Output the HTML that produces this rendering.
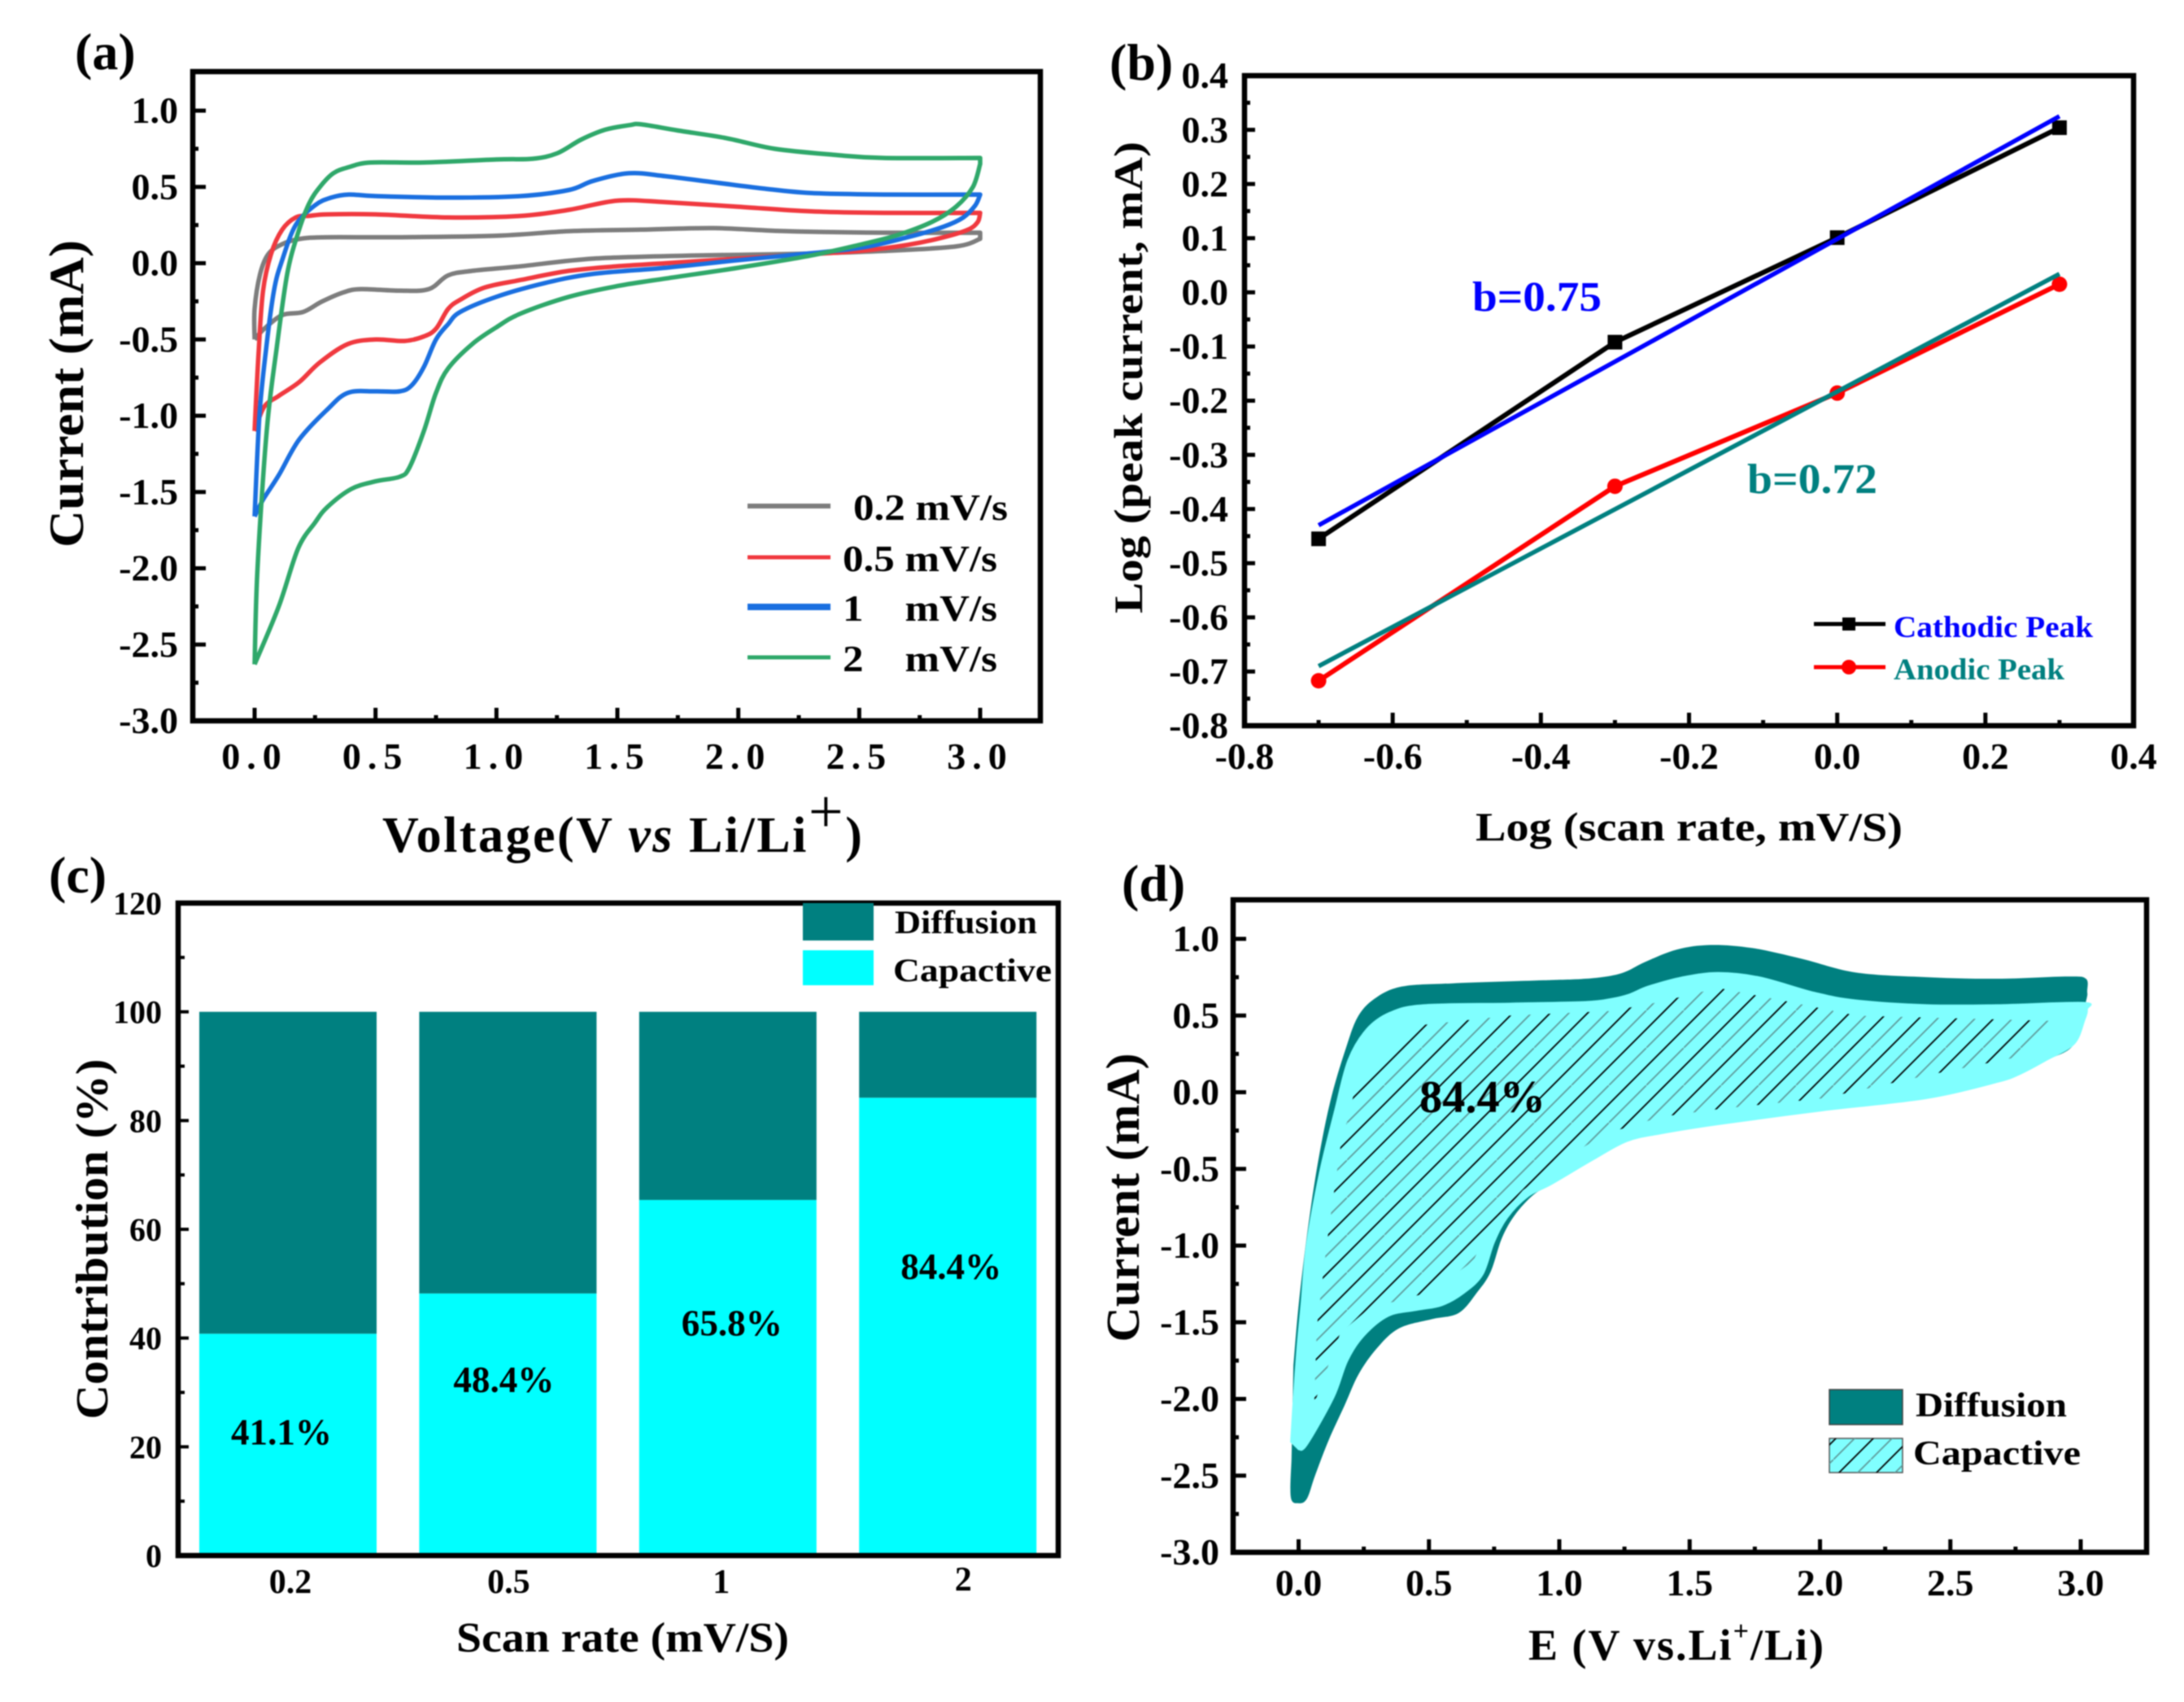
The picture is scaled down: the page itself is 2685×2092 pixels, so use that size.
<!DOCTYPE html>
<html lang="en">
<head>
<meta charset="utf-8">
<title>Electrochemical kinetics figure</title>
<style>
html,body{margin:0;padding:0;background:#fff;width:2685px;height:2092px;overflow:hidden}
svg{display:block;filter:blur(0.8px)}
text{font-family:"Liberation Serif",serif;font-weight:bold;fill:#000}
</style>
</head>
<body>
<svg id="fig" xmlns="http://www.w3.org/2000/svg" width="2685" height="2092" viewBox="0 0 2685 2092">
<defs>
<pattern id="hatch" patternUnits="userSpaceOnUse" width="46" height="46">
<line x1="-4" y1="27" x2="27" y2="-4" stroke="#000" stroke-width="1.8"/>
<line x1="19" y1="50" x2="50" y2="19" stroke="#000" stroke-width="1.8"/>
<line x1="-4" y1="50" x2="50" y2="-4" stroke="#5f9a9a" stroke-width="1.8"/>
</pattern>
</defs>
<rect x="0" y="0" width="2685" height="2092" fill="#fff"/>
</svg>
<script>
// Panel (a): CV loops, voltage (V) and current (mA)
const v02 = [0,0,.023,.057,.114,.19,.3,.6,1,1.3,1.6,1.9,2.2,2.6,3,3,2.9,2.6,2.2,1.8,1.4,1.1,.9,.8,.72,.6,.44,.37,.28,.2,.114,.04,0];
const i02 = [-.5,-.3,-.07,.06,.125,.16,.17,.17,.18,.21,.22,.23,.21,.2,.2,.16,.11,.08,.06,.05,.03,-.02,-.05,-.08,-.17,-.18,-.17,-.19,-.25,-.32,-.34,-.43,-.5];
const v05 = [0,.017,.035,.068,.114,.17,.225,.3,.5,.8,1.1,1.3,1.5,1.7,2,2.3,2.6,3,3,2.99,2.95,2.85,2.7,2.5,2.2,2,1.7,1.5,1.3,1.1,.95,.85,.8,.75,.7,.62,.5,.385,.27,.184,.1,.04,0];
const i05 = [-1.1,-.57,-.18,.06,.22,.3,.31,.32,.32,.30,.31,.35,.41,.40,.37,.34,.33,.33,.33,.27,.22,.17,.12,.08,.05,.03,0,-.02,-.05,-.11,-.16,-.24,-.3,-.43,-.48,-.51,-.5,-.53,-.65,-.78,-.87,-.94,-1.1];
const v1 = [0,.02,.047,.08,.114,.17,.25,.316,.39,.5,.8,1.1,1.3,1.4,1.55,1.7,1.9,2.1,2.3,2.6,3,3,2.98,2.93,2.85,2.7,2.5,2.2,2,1.7,1.4,1.2,1,.85,.8,.75,.7,.65,.6,.5,.385,.3,.184,.1,.035,0];
const i1 = [-1.66,-1,-.57,-.18,.02,.25,.38,.43,.45,.44,.43,.44,.48,.54,.59,.57,.53,.49,.46,.45,.45,.45,.38,.3,.24,.17,.1,.05,.02,-.03,-.07,-.13,-.22,-.32,-.4,-.5,-.68,-.8,-.84,-.84,-.85,-.96,-1.157,-1.39,-1.55,-1.66];
const v2 = [0,.012,.05,.09,.135,.18,.225,.27,.326,.39,.48,.7,1,1.15,1.25,1.35,1.45,1.55,1.6,1.75,1.95,2.15,2.4,2.6,3,3,2.97,2.9,2.8,2.65,2.5,2.3,2,1.7,1.5,1.3,1.1,1,.9,.8,.75,.7,.64,.6,.5,.4,.3,.25,.18,.1,0];
const i2 = [-2.63,-2,-1.1,-.57,-.07,.2,.39,.5,.59,.63,.66,.66,.68,.685,.72,.81,.875,.905,.91,.87,.82,.75,.71,.69,.69,.65,.5,.37,.27,.18,.12,.05,-.03,-.1,-.15,-.22,-.33,-.42,-.53,-.69,-.85,-1.1,-1.34,-1.4,-1.43,-1.48,-1.6,-1.7,-1.87,-2.25,-2.63];
const aXTicks = ["0.0","0.5","1.0","1.5","2.0","2.5","3.0"];
const aYTicks = ["1.0","0.5","0.0","-0.5","-1.0","-1.5","-2.0","-2.5","-3.0"];

// Panel (b): log-log peak current
const scanLog = [-.7,-.3,0,.3];
const cathodic = [-.455,-.092,.101,.304];
const anodic = [-.717,-.358,-.186,.015];
const fitX = [-.7,.3];
const cathodicFit = [-.43,.325];
const anodicFit = [-.69,.034];
const bXTicks = ["-0.8","-0.6","-0.4","-0.2","0.0","0.2","0.4"];
const bYTicks = ["0.4","0.3","0.2","0.1","0.0","-0.1","-0.2","-0.3","-0.4","-0.5","-0.6","-0.7","-0.8"];

// Panel (c): contribution bars
const rates = ["0.2","0.5","1","2"];
const capactive = [40.8,48.2,65.4,84.2];
const diffusion = [59.2,51.8,34.6,15.8];
const printedPct = ["41.1%","48.4%","65.8%","84.4%"];
const printedAt = [20.4,30.1,40.5,50.9];
const cYTicks = ["120","100","80","60","40","20","0"];

// Panel (d): separated CV loop
const dOuterV = [-.02,0,.03,.07,.12,.18,.23,.3,.4,.59,.94,1.1,1.2,1.26,1.33,1.45,1.58,1.74,1.93,2.14,2.41,2.68,2.95,3.02,3.025,3.02,2.975,2.87,2.77,2.68,2.41,2.01,1.61,1.39,1.26,1.13,.97,.9,.83,.78,.737,.687,.614,.51,.385,.3,.23,.177,.115,.063,.032,0,-.03,-.027];
const dOuterI = [-1.78,-1.39,-.96,-.5,-.07,.28,.5,.62,.69,.71,.73,.74,.76,.79,.85,.93,.96,.94,.87,.78,.75,.74,.755,.74,.66,.59,.315,.21,.12,.065,-.04,-.12,-.21,-.27,-.32,-.44,-.6,-.67,-.8,-.95,-1.17,-1.3,-1.44,-1.48,-1.54,-1.67,-1.84,-2.04,-2.27,-2.5,-2.65,-2.68,-2.64,-2.39];
const dInnerV = [-.03,-.02,-.005,.01,.03,.08,.14,.19,.26,.35,.48,.81,1.1,1.2,1.27,1.34,1.47,1.61,1.77,1.98,2.14,2.41,2.68,3.01,3.025,3.015,2.975,2.87,2.77,2.68,2.41,2.01,1.61,1.39,1.26,1.13,.97,.88,.8,.75,.706,.634,.55,.457,.344,.25,.188,.135,.032,0];
const dInnerI = [-2.28,-2,-1.65,-1.38,-1,-.53,-.11,.21,.41,.52,.57,.58,.59,.61,.64,.69,.75,.78,.75,.65,.6,.57,.57,.585,.54,.47,.315,.21,.12,.065,-.04,-.12,-.21,-.27,-.32,-.44,-.6,-.68,-.82,-.98,-1.19,-1.31,-1.39,-1.42,-1.46,-1.59,-1.75,-1.99,-2.3,-2.33];
const dHatchV = [.06,.07,.11,.16,.23,.43,.81,1.2,1.39,1.61,1.88,2.14,2.88,2.76,2.41,2.01,1.61,1.39,1.18,1.02,.86,.73,.67,.51,.27,.16,.06];
const dHatchI = [-2.03,-1.53,-.96,-.36,.11,.43,.5,.53,.59,.68,.59,.5,.465,.23,.11,-.04,-.11,-.16,-.27,-.43,-.64,-.89,-1.1,-1.3,-1.41,-1.57,-2.03];
const dXTicks = ["0.0","0.5","1.0","1.5","2.0","2.5","3.0"];
const dYTicks = ["1.0","0.5","0.0","-0.5","-1.0","-1.5","-2.0","-2.5","-3.0"];

const NS = "http://www.w3.org/2000/svg";
const fig = document.getElementById("fig");

function mk(tag, attrs, name, parent) {
  const el = document.createElementNS(NS, tag);
  for (const k in attrs) el.setAttribute(k, attrs[k]);
  
  
  (parent || fig).appendChild(el);
  return el;
}
function group(name) { return mk("g", {}, name, fig); }
function txt(p, name, x, y, s, size, o) {
  o = o || {};
  const a = {x: x, y: y, "font-size": size, "text-anchor": o.anchor || "start"};
  if (o.fill) a.style = "fill:" + o.fill;
  if (o.len) { a.textLength = o.len; a.lengthAdjust = "spacingAndGlyphs"; }
  if (o.rot) a.transform = "rotate(-90 " + x + " " + y + ")";
  if (o.ls) a["letter-spacing"] = o.ls;
  const t = mk("text", a, name, p);
  t.textContent = s;
  return t;
}
function smooth(xs, ys, fx, fy) {
  const P = xs.map((x, i) => [fx(x), fy(ys[i])]);
  let d = "M" + P[0][0].toFixed(1) + " " + P[0][1].toFixed(1);
  for (let i = 0; i < P.length - 1; i++) {
    const a = P[Math.max(i - 1, 0)], b = P[i], c = P[i + 1], e = P[Math.min(i + 2, P.length - 1)];
    const k = 1 / 6;
    d += " C" + (b[0] + (c[0] - a[0]) * k).toFixed(1) + " " + (b[1] + (c[1] - a[1]) * k).toFixed(1) +
         " " + (c[0] - (e[0] - b[0]) * k).toFixed(1) + " " + (c[1] - (e[1] - b[1]) * k).toFixed(1) +
         " " + c[0].toFixed(1) + " " + c[1].toFixed(1);
  }
  return d;
}
function loopPath(xs, ys, fx, fy) {
  const t = xs.indexOf(Math.max.apply(null, xs));
  const up = smooth(xs.slice(0, t + 1), ys.slice(0, t + 1), fx, fy);
  const down = smooth(xs.slice(t + 1), ys.slice(t + 1), fx, fy);
  return up + " L" + down.slice(1);
}
function straight(xs, ys, fx, fy) {
  return xs.map((x, i) => (i ? "L" : "M") + fx(x).toFixed(1) + " " + fy(ys[i]).toFixed(1)).join(" ");
}
function line(p, name, x1, y1, x2, y2, color, w) {
  return mk("line", {x1: x1, y1: y1, x2: x2, y2: y2, stroke: color, "stroke-width": w}, name, p);
}
function frame(p, name, l, t, r, b) {
  return mk("rect", {x: l, y: t, width: r - l, height: b - t, fill: "none", stroke: "#000", "stroke-width": 6.5}, name, p);
}
function leftTicks(p, left, ticks, fy, step, major, minor, tickLabelX, size) {
  ticks.forEach((s, i) => {
    const v = parseFloat(s), y = fy(v);
    line(p, "y-tick", left, y, left + major, y, "#000", 5);
    txt(p, "y-tick-label", tickLabelX, y + size * 0.33, s, size, {anchor: "end"});
    if (i < ticks.length - 1) {
      const ym = fy(v - step / 2);
      line(p, "y-minor-tick", left, ym, left + minor, ym, "#000", 5);
    }
  });
}
function bottomTicks(p, bottom, ticks, fx, step, major, minor, base, size, ls) {
  ticks.forEach((s, i) => {
    const v = parseFloat(s), x = fx(v);
    line(p, "x-tick", x, bottom, x, bottom - major, "#000", 5);
    txt(p, "x-tick-label", x, base, s, size, {anchor: "middle", ls: ls});
    if (i < ticks.length - 1) {
      const xm = fx(v + step / 2);
      line(p, "x-minor-tick", xm, bottom, xm, bottom - minor, "#000", 5);
    }
  });
}

/* ---------- Panel (a) ---------- */
(function () {
  const p = group("panel-a");
  const x = v => 313 + v * (1205 - 313) / 3;
  const y = i => 136 + (1 - i) * (886 - 136) / 4;
  txt(p, "panel-label-a", 92, 85, "(a)", 64);
  const series = [[v02, i02, "#7d7d7d", "curve-0-2-mv-s"], [v05, i05, "#f0393f", "curve-0-5-mv-s"], [v1, i1, "#1a6fe0", "curve-1-mv-s"], [v2, i2, "#2fa86a", "curve-2-mv-s"]];
  series.forEach(s => mk("path", {d: loopPath(s[0], s[1], x, y), fill: "none", stroke: s[2], "stroke-width": 5.5, "stroke-linejoin": "round"}, s[3], p));
  leftTicks(p, 237, aYTicks, y, 0.5, 16, 7, 219, 46);
  bottomTicks(p, 886, aXTicks, x, 0.5, 16, 7, 945, 46, 8);
  frame(p, "plot-frame-a", 237, 88, 1279, 886);
  txt(p, "y-axis-title-a", 102, 484, "Current (mA)", 60, {anchor: "middle", rot: true, len: 378});
  const xt = txt(p, "x-axis-title-a", 470, 1047, "Voltage(V ", 62, {ls: 2.5});
  const vs = mk("tspan", {"font-style": "italic"}, "x-axis-title-vs", xt); vs.textContent = "vs";
  const li = mk("tspan", {}, "x-axis-title-li", xt); li.textContent = " Li/Li";
  const pl = mk("tspan", {dy: -24, "font-size": 76, "font-weight": "normal"}, "x-axis-title-plus", xt); pl.textContent = "+";
  const cl = mk("tspan", {dy: 24}, "x-axis-title-close", xt); cl.textContent = ")";
  const leg = [["0.2 mV/s", 1049, 622, "#7d7d7d", 6], ["0.5 mV/s", 1036, 685, "#f0393f", 5], ["1\u00A0\u00A0\u00A0\u00A0mV/s", 1036, 746, "#1a6fe0", 8], ["2\u00A0\u00A0\u00A0\u00A0mV/s", 1036, 808, "#2fa86a", 5]];
  leg.forEach(l => {
    line(p, "legend-line", 919, l[2], 1021, l[2], l[3], l[4]);
    txt(p, "legend-label", l[1], l[2] + 17, l[0], 46, {len: 190});
  });
})();

/* ---------- Panel (b) ---------- */
(function () {
  const p = group("panel-b");
  const x = v => 1530 + (v + .8) * (2623 - 1530) / 1.2;
  const y = v => 93 + (.4 - v) * (892 - 93) / 1.2;
  txt(p, "panel-label-b", 1364, 98, "(b)", 64);
  mk("path", {d: straight(scanLog, cathodic, x, y), fill: "none", stroke: "#000", "stroke-width": 6}, "cathodic-line", p);
  mk("path", {d: straight(scanLog, anodic, x, y), fill: "none", stroke: "#f00", "stroke-width": 6}, "anodic-line", p);
  scanLog.forEach((v, i) => {
    mk("rect", {x: x(v) - 9, y: y(cathodic[i]) - 9, width: 18, height: 18, fill: "#000"}, "cathodic-point", p);
    mk("circle", {cx: x(v), cy: y(anodic[i]), r: 9.5, fill: "#f00"}, "anodic-point", p);
  });
  mk("path", {d: straight(fitX, cathodicFit, x, y), fill: "none", stroke: "#0000ff", "stroke-width": 5.5}, "cathodic-fit", p);
  mk("path", {d: straight(fitX, anodicFit, x, y), fill: "none", stroke: "#008080", "stroke-width": 5.5}, "anodic-fit", p);
  leftTicks(p, 1530, bYTicks, y, 0.1, 13, 7, 1510, 46);
  bottomTicks(p, 892, bXTicks, x, 0.2, 16, 7, 945, 46);
  frame(p, "plot-frame-b", 1530, 93, 2623, 892);
  txt(p, "y-axis-title-b", 1404, 464, "Log (peak current, mA)", 50, {anchor: "middle", rot: true, len: 580});
  txt(p, "x-axis-title-b", 1814, 1033, "Log (scan rate, mV/S)", 50, {len: 525});
  txt(p, "annotation-b-075", 1810, 382, "b=0.75", 52, {fill: "#0000ff", len: 159});
  txt(p, "annotation-b-072", 2148, 606, "b=0.72", 52, {fill: "#008080", len: 160});
  line(p, "legend-line-cathodic", 2230, 767, 2318, 767, "#000", 5);
  mk("rect", {x: 2265, y: 759, width: 16, height: 16, fill: "#000"}, "legend-marker-cathodic", p);
  txt(p, "legend-label-cathodic", 2328, 783, "Cathodic Peak", 37, {fill: "#0000ff", len: 245});
  line(p, "legend-line-anodic", 2230, 820, 2318, 820, "#f00", 5);
  mk("circle", {cx: 2273, cy: 820, r: 9, fill: "#f00"}, "legend-marker-anodic", p);
  txt(p, "legend-label-anodic", 2328, 835, "Anodic Peak", 37, {fill: "#008080", len: 210});
})();

/* ---------- Panel (c) ---------- */
(function () {
  const p = group("panel-c");
  const y = v => 1110 + (120 - v) * 802 / 120;
  const cx = i => 354 + 270.4 * i;
  const barW = 218;
  txt(p, "panel-label-c", 60, 1097, "(c)", 64);
  rates.forEach((r, i) => {
    mk("rect", {x: cx(i) - barW / 2, y: y(capactive[i]), width: barW, height: y(0) - y(capactive[i]), fill: "#00ffff"}, "bar-capactive-" + r, p);
    mk("rect", {x: cx(i) - barW / 2, y: y(capactive[i] + diffusion[i]), width: barW, height: y(capactive[i]) - y(capactive[i] + diffusion[i]), fill: "#008080"}, "bar-diffusion-" + r, p);
    txt(p, "bar-value-label", cx(i) + [-8, -5, 5, 4][i], y(printedAt[i]), printedPct[i], 46, {anchor: "middle", len: 124});
    txt(p, "x-tick-label", cx(i) + [3, 1, -8, 19][i], i === 3 ? 1955 : 1958, r, 42, {anchor: "middle"});
  });
  cYTicks.forEach((s, i) => {
    const v = parseFloat(s);
    line(p, "y-tick", 219, y(v), 232, y(v), "#000", 4);
    txt(p, "y-tick-label", 199, y(v) + 14, s, 40, {anchor: "end", len: 20 * s.length});
    if (i < cYTicks.length - 1) line(p, "y-minor-tick", 219, y(v - 10), 227, y(v - 10), "#000", 4);
  });
  frame(p, "plot-frame-c", 219, 1110, 1301, 1912);
  mk("rect", {x: 987, y: 1110, width: 87, height: 46, fill: "#008080"}, "legend-swatch-diffusion", p);
  mk("rect", {x: 987, y: 1168, width: 87, height: 43, fill: "#00ffff"}, "legend-swatch-capactive", p);
  txt(p, "legend-label-diffusion", 1100, 1147, "Diffusion", 40, {len: 175});
  txt(p, "legend-label-capactive", 1098, 1206, "Capactive", 40, {len: 195});
  txt(p, "y-axis-title-c", 132, 1523, "Contribution (%)", 56, {anchor: "middle", rot: true, len: 443});
  txt(p, "x-axis-title-c", 561, 2030, "Scan rate (mV/S)", 52, {len: 409});
})();

/* ---------- Panel (d) ---------- */
(function () {
  const p = group("panel-d");
  const x = v => 1596.5 + v * (2558 - 1596.5) / 3;
  const y = i => 1154 + (1 - i) * (1908 - 1154) / 4;
  txt(p, "panel-label-d", 1379, 1107, "(d)", 64);
  mk("path", {d: smooth(dOuterV, dOuterI, x, y) + " Z", fill: "#008080"}, "diffusion-area", p);
  mk("path", {d: smooth(dInnerV, dInnerI, x, y) + " Z", fill: "#80ffff", stroke: "#80ffff", "stroke-width": 1.5}, "capactive-area", p);
  mk("path", {d: straight(dHatchV, dHatchI, x, y) + " Z", fill: "url(#hatch)"}, "capactive-hatch", p);
  leftTicks(p, 1516, dYTicks, y, 0.5, 16, 7, 1499, 46);
  bottomTicks(p, 1908, dXTicks, x, 0.5, 16, 7, 1961, 46);
  frame(p, "plot-frame-d", 1516, 1106, 2639, 1908);
  txt(p, "y-axis-title-d", 1400, 1472, "Current (mA)", 58, {anchor: "middle", rot: true, len: 355});
  const t = txt(p, "x-axis-title-d", 1879, 2040, "E (V vs.Li", 54, {ls: 2});
  const sup = mk("tspan", {dy: -24, "font-size": 34}, "x-axis-title-d-sup", t); sup.textContent = "+";
  const rest = mk("tspan", {dy: 24}, "x-axis-title-d-rest", t); rest.textContent = "/Li)";
  txt(p, "annotation-84-4", 1745, 1367, "84.4%", 56, {len: 155});
  mk("rect", {x: 2249, y: 1708, width: 90, height: 43, fill: "#008080", stroke: "#444", "stroke-width": 1.5}, "legend-swatch-diffusion", p);
  mk("rect", {x: 2249, y: 1768, width: 90, height: 42, fill: "#80ffff", stroke: "#555", "stroke-width": 1.5}, "legend-swatch-capactive", p);
  mk("rect", {x: 2249, y: 1768, width: 90, height: 42, fill: "url(#hatch)"}, "legend-swatch-hatch", p);
  txt(p, "legend-label-diffusion", 2355, 1741, "Diffusion", 42, {len: 186});
  txt(p, "legend-label-capactive", 2352, 1800, "Capactive", 42, {len: 206});
})();
</script>
</body>
</html>
